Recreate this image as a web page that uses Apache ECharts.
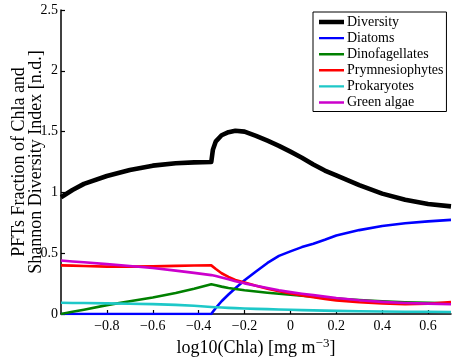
<!DOCTYPE html>
<html>
<head>
<meta charset="utf-8">
<script src="https://cdn.jsdelivr.net/npm/echarts@6/dist/echarts.min.js"></script>
<style>
html,body{margin:0;padding:0;background:#fff;}
#chart{width:454px;height:358px;}
</style>
</head>
<body>
<div id="chart"></div>
<script>
// log10(Chla) sample positions
var xValues = [-1, -0.95, -0.9, -0.8, -0.7, -0.6, -0.5, -0.42, -0.345, -0.338, -0.325, -0.3, -0.27, -0.24, -0.2, -0.15, -0.1, -0.05, 0, 0.05, 0.1, 0.15, 0.2, 0.3, 0.4, 0.5, 0.6, 0.7];
var diversity = [0.96, 1.02, 1.07, 1.135, 1.185, 1.22, 1.24, 1.247, 1.25, 1.35, 1.42, 1.47, 1.495, 1.507, 1.50, 1.465, 1.425, 1.383, 1.335, 1.285, 1.23, 1.18, 1.14, 1.06, 0.99, 0.94, 0.905, 0.885];
var diatoms = [0, 0, 0, 0, 0, 0, 0, 0, 0, 0.018, 0.05, 0.105, 0.16, 0.212, 0.278, 0.35, 0.42, 0.478, 0.515, 0.55, 0.578, 0.61, 0.645, 0.69, 0.723, 0.746, 0.762, 0.774];
var dinoflagellates = [0, 0.018, 0.035, 0.073, 0.105, 0.135, 0.172, 0.207, 0.245, 0.242, 0.236, 0.225, 0.214, 0.205, 0.195, 0.185, 0.175, 0.166, 0.158, 0.15, 0.142, 0.134, 0.127, 0.115, 0.105, 0.097, 0.092, 0.088];
var prymnesiophytes = [0.40, 0.398, 0.395, 0.39, 0.39, 0.392, 0.396, 0.399, 0.40, 0.39, 0.37, 0.335, 0.305, 0.28, 0.26, 0.232, 0.207, 0.187, 0.169, 0.152, 0.137, 0.124, 0.112, 0.096, 0.087, 0.081, 0.084, 0.098];
var prokaryotes = [0.092, 0.091, 0.09, 0.087, 0.084, 0.081, 0.075, 0.068, 0.058, 0.057, 0.056, 0.053, 0.05, 0.048, 0.045, 0.042, 0.04, 0.037, 0.035, 0.032, 0.03, 0.028, 0.026, 0.023, 0.021, 0.019, 0.018, 0.017];
var greenAlgae = [0.44, 0.432, 0.425, 0.41, 0.395, 0.378, 0.357, 0.338, 0.32, 0.317, 0.312, 0.30, 0.285, 0.27, 0.252, 0.232, 0.213, 0.195, 0.18, 0.167, 0.155, 0.143, 0.131, 0.113, 0.1, 0.091, 0.085, 0.08];

var seriesNames = ['Diversity', 'Diatoms', 'Dinofagellates', 'Prymnesiophytes', 'Prokaryotes', 'Green algae'];
var xTicks = [-0.8, -0.6, -0.4, -0.2, 0, 0.2, 0.4, 0.6];
var yTicks = [0, 0.5, 1, 1.5, 2, 2.5];

var colors = ['#000000', '#0000ff', '#008000', '#ff0000', '#1ec8c8', '#cc00cc'];
var widths = [4.6, 2.6, 2.6, 2.6, 2.6, 2.6];
var allValues = [diversity, diatoms, dinoflagellates, prymnesiophytes, prokaryotes, greenAlgae];

function pairs(ys) { return xValues.map(function (x, i) { return [x, ys[i]]; }); }
function legendIcon(w) {
  var c = 7, h = w / 2;
  return 'path://M0,0H0.01V0.01H0ZM0,' + (c - h) + 'H25V' + (c + h) + 'H0ZM24.99,14H25V13.99H24.99Z';
}

var FONT = 'Liberation Serif';
var series = seriesNames.map(function (n, i) {
  return {
    name: n, type: 'line', data: pairs(allValues[i]),
    symbol: 'none', showSymbol: false,
    lineStyle: { color: colors[i], width: widths[i], join: 'round' },
    itemStyle: { color: colors[i] },
    z: 2 + i,
    animation: false
  };
});

var chart = echarts.init(document.getElementById('chart'), null, { renderer: 'canvas' });
chart.setOption({
  animation: false,
  backgroundColor: '#ffffff',
  grid: { left: 61, right: 3, top: 10, bottom: 44, containLabel: false, outerBoundsMode: 'none' },
  xAxis: {
    type: 'value', min: -1, max: 0.7,
    axisLine: { show: true, onZero: false, lineStyle: { color: '#000', width: 1.5 } },
    axisTick: { show: true, inside: true, length: 4, lineStyle: { color: '#000', width: 1.2 }, customValues: xTicks },
    axisLabel: {
      customValues: xTicks, color: '#000', fontFamily: FONT, fontSize: 14, margin: 5,
      formatter: function (v) { var s = (Math.abs(v) < 1e-9) ? '0' : (+v).toFixed(1); return s.replace('-', '\u2212'); }
    },
    splitLine: { show: false },
    name: 'log10(Chla) [mg m{sup|\u22123}]',
    nameLocation: 'middle', nameGap: 23, nameMoveOverlap: false,
    nameTextStyle: {
      color: '#000', fontFamily: FONT, fontSize: 18, lineHeight: 22, verticalAlign: 'top',
      rich: { sup: { fontFamily: FONT, fontSize: 13, color: '#000', verticalAlign: 'top', lineHeight: 22, padding: [0, 0, 10, 0] } }
    }
  },
  yAxis: {
    type: 'value', min: 0, max: 2.5, interval: 0.5,
    axisLine: { show: true, onZero: false, lineStyle: { color: '#000', width: 1.5 } },
    axisTick: { show: true, inside: true, length: 4, lineStyle: { color: '#000', width: 1.2 } },
    axisLabel: { color: '#000', fontFamily: FONT, fontSize: 14, margin: 3 },
    splitLine: { show: false },
    name: 'PFTs Fraction of Chla and\nShannon Diversity Index [n.d.]',
    nameLocation: 'middle', nameGap: 16, nameRotate: 90, nameMoveOverlap: false,
    nameTextStyle: { color: '#000', fontFamily: FONT, fontSize: 18, lineHeight: 17 }
  },
  legend: {
    orient: 'vertical', left: 313, top: 12,
    padding: [3, 3, 2, 6],
    itemWidth: 25, itemHeight: 14, itemGap: 2.1,
    borderColor: '#000', borderWidth: 1, backgroundColor: '#fff',
    textStyle: { color: '#000', fontFamily: FONT, fontSize: 14, lineHeight: 14, padding: [0, 0, 0, -2] },
    itemStyle: { borderWidth: 0 },
    data: seriesNames.map(function (n, i) { return { name: n, icon: legendIcon(i === 0 ? 4.4 : 2.4) }; }),
    selectedMode: false
  },
  series: series
});
</script>
</body>
</html>
